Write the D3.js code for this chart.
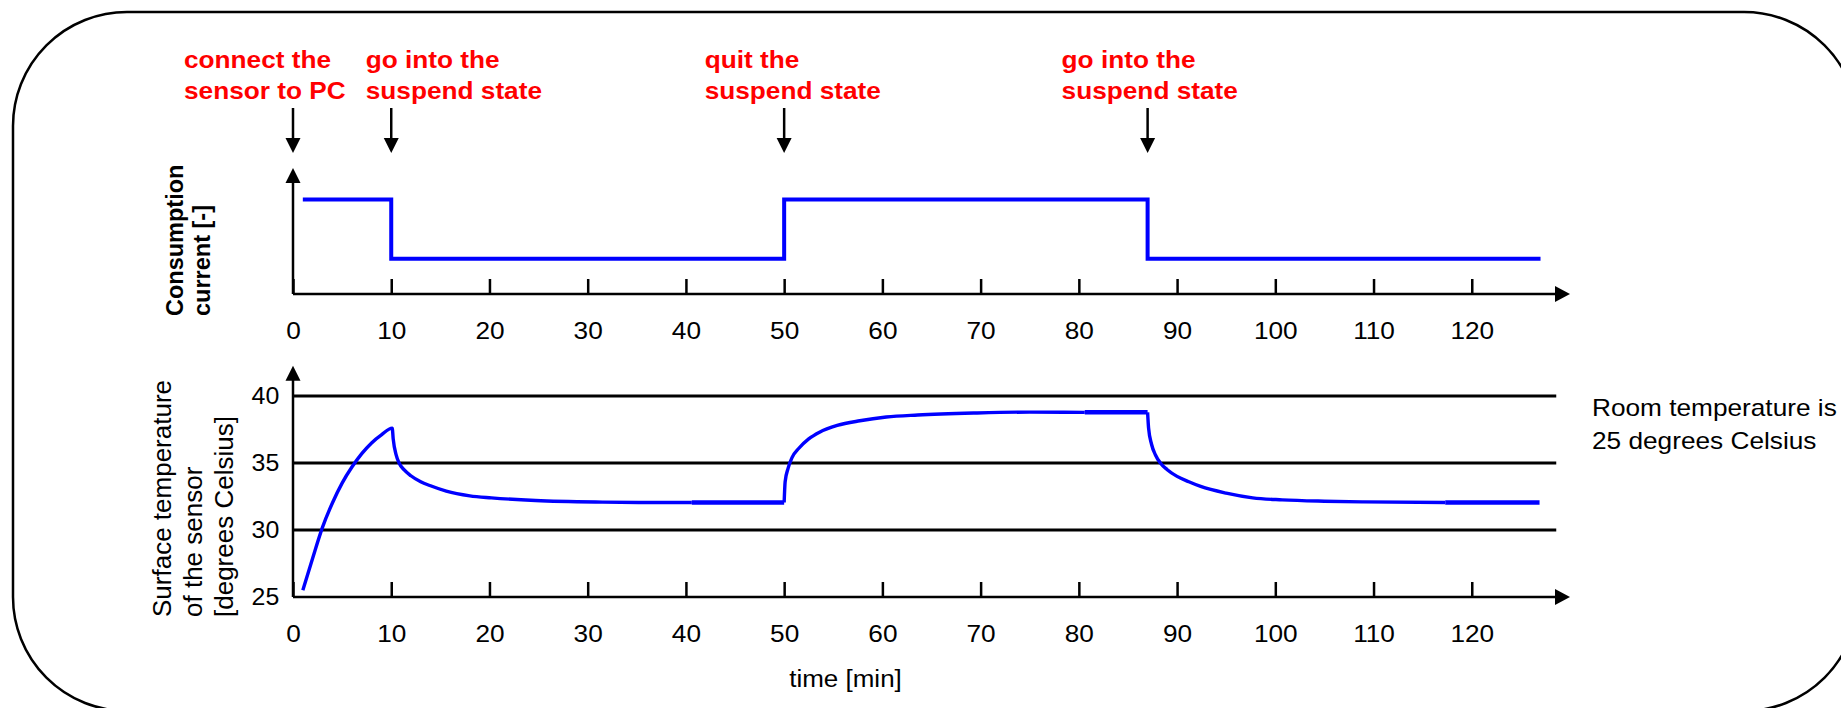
<!DOCTYPE html>
<html>
<head>
<meta charset="utf-8">
<script src="https://cdn.jsdelivr.net/npm/d3@7"></script>
<style>
  body { margin: 0; background: #fff; }
  svg { display: block; font-family: "Liberation Sans", Arial, sans-serif; }
</style>
</head>
<body>
<svg id="chart" width="1841" height="708"></svg>
<script>
// time axis (minutes), shared by both panels
const timeTicks = [0, 10, 20, 30, 40, 50, 60, 70, 80, 90, 100, 110, 120];

// events, marked with red notes on top
const eventTimes = [0, 10, 50, 87];
const eventNotes = [
  ["connect the", "sensor to PC"],
  ["go into the", "suspend state"],
  ["quit the", "suspend state"],
  ["go into the", "suspend state"]
];

// consumption current, relative level only (no unit)
const currentTimes = [1, 10, 50, 87, 127];
const currentLevels = [0.75, 0.28, 0.75, 0.28, 0.28];

// surface temperature of the sensor [deg C]
const tempRun1 = [[1, 25.5], [2, 27.9], [3, 30.2], [4, 32.0], [5, 33.5], [6, 34.7], [7, 35.7], [8, 36.5],
  [9, 37.1], [10.1, 37.6], [10.2, 36.8], [10.5, 35.6], [10.8, 35.0], [11.3, 34.5], [12, 34.05],
  [13, 33.6], [14, 33.3], [15.6, 32.9], [18, 32.55], [20.2, 32.4], [24.7, 32.2], [31.5, 32.08], [36, 32.05], [40.6, 32.05]];
const tempRun2 = [[50, 32.05], [50.1, 33.6], [50.4, 34.6], [50.8, 35.4], [51.5, 36.1], [52.5, 36.8],
  [53.6, 37.3], [55.4, 37.8], [57.7, 38.15], [60.4, 38.43], [63.6, 38.58], [69.5, 38.73], [75, 38.8], [80.6, 38.78]];
const tempRun3 = [[87, 38.78], [87.1, 37.6], [87.4, 36.4], [87.8, 35.6], [88.3, 35.0], [89, 34.5], [90, 34.0],
  [91.2, 33.6], [92.4, 33.25], [95, 32.75], [97.7, 32.4], [100.7, 32.25], [105, 32.15], [109, 32.1], [117.3, 32.05]];

// steady stretches (drawn a bit heavier in the original)
const plateauStart = [40.6, 80.6, 117.3];
const plateauEnd = [50, 87, 126.9];
const plateauTemp = [32.05, 38.78, 32.05];

const tempTicks = [25, 30, 35, 40];
const gridTemps = [30, 35, 40];

const svg = d3.select("#chart");

// scales
const x = d3.scaleLinear().domain([0, 130]).range([293, 1570]);
const yCur = d3.scaleLinear().domain([0, 1]).range([294, 168]);
const yTemp = d3.scaleLinear().domain([25, 40]).range([597, 396]);
const tempTop = 42.25;   // where the y arrow of the lower panel ends
const gridEnd = 128.6;   // grid lines stop a bit before the arrow

// frame with round corners, partly outside the picture
svg.append("rect")
  .attr("x", 13).attr("y", 12)
  .attr("width", 1845).attr("height", 699)
  .attr("rx", 114).attr("ry", 114)
  .attr("fill", "none").attr("stroke", "#000").attr("stroke-width", 2.5);

// filled triangle, tip at (tx, ty), pointing "dir"
function arrowHead(tx, ty, dir) {
  const L = 15, W = 7.5;
  let pts;
  if (dir == "up") pts = [[tx, ty], [tx - W, ty + L], [tx + W, ty + L]];
  else if (dir == "down") pts = [[tx, ty], [tx - W, ty - L], [tx + W, ty - L]];
  else pts = [[tx, ty], [tx - L, ty - W - 0.5], [tx - L, ty + W + 0.5]];
  svg.append("path")
    .attr("d", "M" + pts.map(p => p.join(",")).join("L") + "Z")
    .attr("fill", "#000");
}

// text that is a bit wider than the font (the picture is stretched sideways)
function wideText(px, py, str, size, sx, opts) {
  opts = opts || {};
  const g = svg.append("g").attr("transform", "translate(" + px + "," + py + ") scale(" + sx + ",1)");
  return g.append("text")
    .attr("x", 0).attr("y", 0)
    .attr("font-size", size)
    .attr("font-weight", opts.bold ? "bold" : "normal")
    .attr("fill", opts.color || "#000")
    .attr("text-anchor", opts.anchor || "start")
    .text(str);
}

// ---- event notes and arrows
const noteDx = [-109, -25.5, -79.5, -86];
eventTimes.forEach(function(t, i) {
  const ax = x(t);
  eventNotes[i].forEach(function(line, j) {
    wideText(ax + noteDx[i], 68 + j * 31, line, 23, 1.14, { bold: true, color: "#ff0000" });
  });
  svg.append("line")
    .attr("x1", ax).attr("x2", ax).attr("y1", 108).attr("y2", 140)
    .attr("stroke", "#000").attr("stroke-width", 2.5);
  arrowHead(ax, 153, "down");
});

// ---- upper panel: consumption current
const curLine = d3.line()
  .x(d => x(d[0]))
  .y(d => yCur(d[1]))
  .curve(d3.curveStepAfter);

svg.append("path")
  .datum(currentTimes.map((t, i) => [t, currentLevels[i]]))
  .attr("d", curLine)
  .attr("fill", "none").attr("stroke", "#0000ff").attr("stroke-width", 4);

function timeAxis(yPos) {
  const ax = svg.append("g")
    .attr("transform", "translate(0," + yPos + ")")
    .call(d3.axisBottom(x).tickValues(timeTicks).tickSizeInner(-15).tickSizeOuter(0).tickPadding(29));
  ax.select(".domain").remove();
  ax.selectAll(".tick line").attr("stroke", "#000").attr("stroke-width", 2.5);
  ax.selectAll(".tick text")
    .attr("font-size", 23)
    .attr("font-family", "Liberation Sans, Arial, sans-serif")
    .attr("fill", "#000")
    .attr("transform", "scale(1.14,1)");
  svg.append("line")
    .attr("x1", x(0)).attr("x2", x(130) - 14)
    .attr("y1", yPos).attr("y2", yPos)
    .attr("stroke", "#000").attr("stroke-width", 2.5);
  arrowHead(x(130), yPos, "right");
}

timeAxis(yCur(0));
svg.append("line")
  .attr("x1", x(0)).attr("x2", x(0))
  .attr("y1", yCur(0)).attr("y2", yCur(1) + 14)
  .attr("stroke", "#000").attr("stroke-width", 2.5);
arrowHead(x(0), yCur(1), "up");

// rotated bold title
[["Consumption", 183], ["current [-]", 210]].forEach(function(d) {
  svg.append("text")
    .attr("transform", "translate(" + d[1] + ",316) rotate(-90)")
    .attr("font-size", 23.5).attr("font-weight", "bold")
    .attr("text-anchor", "start")
    .text(d[0]);
});

// ---- lower panel: surface temperature
svg.selectAll(".grid")
  .data(gridTemps)
  .enter().append("line")
  .attr("class", "grid")
  .attr("x1", x(0)).attr("x2", x(gridEnd))
  .attr("y1", d => yTemp(d)).attr("y2", d => yTemp(d))
  .attr("stroke", "#000").attr("stroke-width", 3);

const tempLine = d3.line()
  .x(d => x(d[0]))
  .y(d => yTemp(d[1]))
  .curve(d3.curveMonotoneX);

[tempRun1, tempRun2, tempRun3].forEach(function(run) {
  svg.append("path")
    .datum(run)
    .attr("d", tempLine)
    .attr("fill", "none").attr("stroke", "#0000ff")
    .attr("stroke-width", 3.4).attr("stroke-linejoin", "round");
});

plateauTemp.forEach(function(T, i) {
  svg.append("line")
    .attr("x1", x(plateauStart[i])).attr("x2", x(plateauEnd[i]))
    .attr("y1", yTemp(T)).attr("y2", yTemp(T))
    .attr("stroke", "#0000ff").attr("stroke-width", 4.5);
});

timeAxis(yTemp(25));
svg.append("line")
  .attr("x1", x(0)).attr("x2", x(0))
  .attr("y1", yTemp(25)).attr("y2", yTemp(tempTop) + 14)
  .attr("stroke", "#000").attr("stroke-width", 2.5);
arrowHead(x(0), yTemp(tempTop), "up");

const yAx = svg.append("g")
  .attr("transform", "translate(" + x(0) + ",0)")
  .call(d3.axisLeft(yTemp).tickValues(tempTicks).tickSize(0).tickPadding(13));
yAx.select(".domain").remove();
yAx.selectAll(".tick text")
  .attr("font-size", 23.5)
  .attr("font-family", "Liberation Sans, Arial, sans-serif")
  .attr("fill", "#000")
  .attr("transform", "scale(1.06,1)");

[["Surface temperature", 171], ["of the sensor", 202], ["[degrees Celsius]", 233]].forEach(function(d) {
  svg.append("text")
    .attr("transform", "translate(" + d[1] + ",617) rotate(-90)")
    .attr("font-size", 26)
    .attr("text-anchor", "start")
    .text(d[0]);
});

wideText(845.5, 687, "time [min]", 23, 1.13, { anchor: "middle" });

// note on the right
wideText(1592, 416, "Room temperature is", 23, 1.14);
wideText(1592, 448.5, "25 degrees Celsius", 23, 1.14);
</script>
</body>
</html>
